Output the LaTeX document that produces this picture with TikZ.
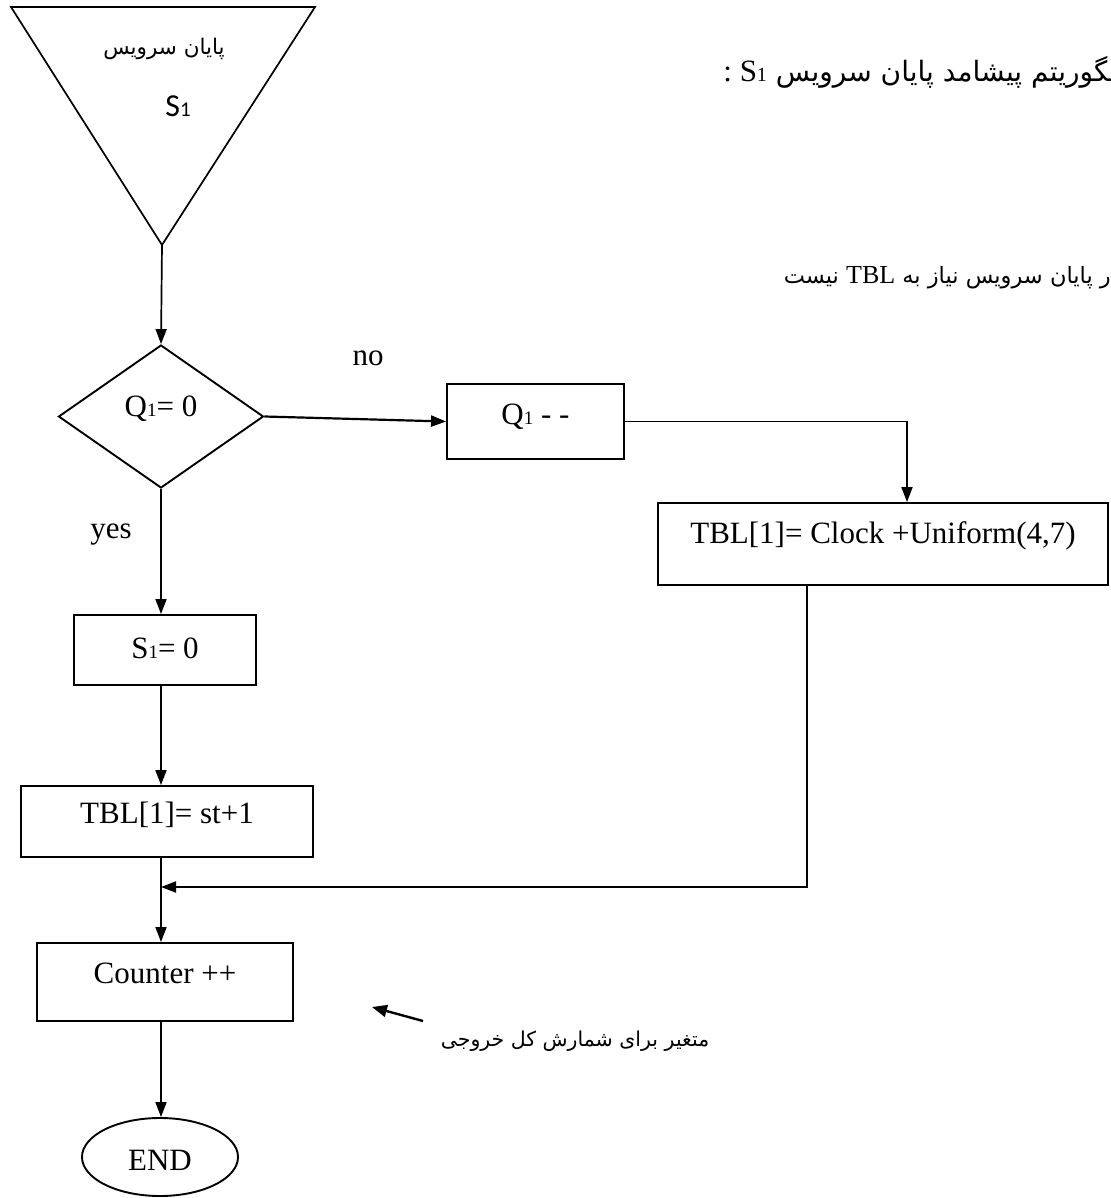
\documentclass[tikz,border=0pt]{standalone}
\usepackage{fontspec}
\setmainfont{Liberation Serif}
\newfontfamily\fafont[Script=Arabic]{DejaVu Sans}
\newfontfamily\calfont{Carlito}
\TeXXeTstate=1
\usetikzlibrary{shapes.geometric,arrows.meta}
% small index digit set on the baseline
\newcommand{\lowone}[1][19]{{\fontsize{#1}{#1}\selectfont 1}}

\begin{document}
\begin{tikzpicture}[x=1pt,y=-1pt,
  conn/.style={line width=1.7pt},
  arr/.style={conn,-{Triangle[length=15pt,width=11pt]}},
  txt/.style={font=\fontsize{31}{36}\selectfont},
  box/.style={draw,line width=1.9pt,rectangle,inner sep=0pt,txt,text height=22pt},
  lbl/.style={inner sep=0pt,txt},
  fatext/.style={inner sep=0pt,font={\fafont\fontsize{#1}{#1}\selectfont}}]
\fill[white] (0,0) rectangle (1110,1198);
\useasboundingbox (0,0) rectangle (1110,1198);

% event symbol
\draw[line width=1.7pt] (11,7) -- (315,7) -- (162,245) -- cycle;
\coordinate (start) at (162,245);
\node[fatext=21.5] (evname) at (164,49) {\beginR پایان سرویس\endR};
\node[inner sep=0pt,font=\calfont\fontsize{32}{34}\selectfont] (evsrv) at (178,106) {S\lowone[21]};

% heading and remark, cut by the right margin
\begin{scope}
\clip (0,0) rectangle (1110,1198);
\node[anchor=base east,inner sep=0pt] (title) at (1126,82)
  {\beginR{\fafont\fontsize{28}{30}\selectfont الگوریتم پیشامد پایان سرویس }\beginL{\fontsize{31}{34}\selectfont S\lowone[20]}\endL{\fontsize{31}{34}\selectfont\ :}\endR};
\node[anchor=base east,inner sep=0pt] (remark) at (1121,283)
  {\beginR{\fafont\fontsize{22.5}{25}\selectfont در پایان سرویس نیاز به }\beginL{\fontsize{26}{28}\selectfont TBL}\endL{\fafont\fontsize{22.5}{25}\selectfont\ نیست}\endR};
\end{scope}

% decision
\node[draw,line width=1.9pt,diamond,minimum width=205pt,minimum height=143pt,inner sep=0pt,
      txt,text height=22pt,text depth=23pt] (qtest) at (161,416.5) {Q\lowone= 0};
\node[lbl] (nolbl) at (368,358) {no};
\node[lbl] (yeslbl) at (111,535) {yes};

% boxes
\node[box,minimum width=177pt,minimum height=75pt,text depth=17pt] (qdec) at (535.5,421.5) {Q\lowone\ - -};
\node[box,minimum width=450pt,minimum height=82pt,text depth=23pt] (clock) at (883,544) {TBL[1]= Clock +Uniform(4,7)};
\node[box,minimum width=182pt,minimum height=70pt,text depth=5pt] (sreset) at (165,650) {S\lowone= 0};
\node[box,minimum width=292pt,minimum height=71pt,text depth=18pt] (tblst) at (167,821.5) {TBL[1]= st+1};
\node[box,minimum width=256pt,minimum height=78pt,text depth=19pt] (count) at (165,982) {Counter ++};
\node[draw,line width=1.9pt,ellipse,minimum width=156pt,minimum height=78pt,inner sep=0pt,
      txt,text height=27pt,text depth=0pt] (finish) at (160,1157) {END};

% connectors
\coordinate (merge) at (161,887);
\draw[arr] (start) -- (qtest.north);
\draw[arr,line width=2.2pt] (qtest.east) -- (qdec.west);
\draw[arr] (qdec.east) -| ([xshift=24pt]clock.north);
\draw[arr] (qtest.south) -- (qtest.south |- sreset.north);
\draw[arr] (qtest.south |- sreset.south) -- (qtest.south |- tblst.north);
\draw[arr] (qtest.south |- tblst.south) -- (qtest.south |- count.north);
\draw[arr,line width=2pt] ([xshift=-76pt]clock.south) |- (merge);
\draw[arr] (qtest.south |- count.south) -- (qtest.south |- finish.north);

% note on the counter
\coordinate (ptail) at (423,1021);
\coordinate (ptip) at (372,1007);
\draw[line width=2.4pt,-{Triangle[length=15pt,width=12pt]}] (ptail) -- (ptip);
\node[fatext=20.5] (note) at (575,1041) {\beginR متغیر برای شمارش کل خروجی\endR};
\end{tikzpicture}
\end{document}
